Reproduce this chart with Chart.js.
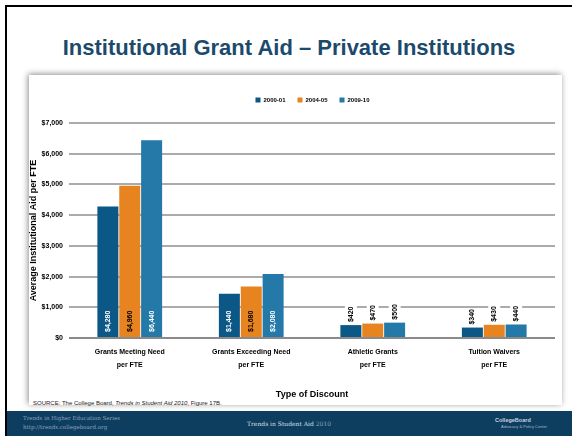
<!DOCTYPE html>
<html>
<head>
<meta charset="utf-8">
<script src="https://cdn.jsdelivr.net/npm/chart.js@4.4.1/dist/chart.umd.min.js"></script>
<style>
  html, body { margin: 0; padding: 0; background: #fff; }
  body { width: 572px; height: 436px; position: relative; overflow: hidden; font-family: "Liberation Sans", Arial, sans-serif; }
  #frame { position: absolute; left: 5px; top: 5px; width: 580px; height: 440px; border-left: 2px solid #000; border-top: 2px solid #000; }
  #title { position: absolute; left: 0; width: 578px; top: 35px; text-align: center; font-weight: bold; font-size: 22px; color: #1c4a6c; }
  #box { position: absolute; left: 29px; top: 75px; width: 533px; height: 330px; background: #fff; box-shadow: -1px -1px 6px rgba(0,0,0,0.45); }
  #source { position: absolute; left: 33px; top: 400px; font-size: 6px; color: #222; }
  #footer { position: absolute; left: 7px; top: 411px; width: 565px; height: 25px; background: #0d3d5f; }
  .ft { position: absolute; font-family: "DejaVu Serif", serif; color: #8fa5b8; font-size: 5.5px; white-space: nowrap; }
  #chart { position: absolute; left: 0; top: 0; }
</style>
</head>
<body>
<div id="frame"></div>
<div id="title">Institutional Grant Aid – Private Institutions</div>
<div id="box"></div>
<div id="source">SOURCE: The College Board, <i>Trends in Student Aid 2010</i>, Figure 17B.</div>
<div id="footer">
  <div class="ft" style="left:16px; top:4px;">Trends in Higher Education Series</div>
  <div class="ft" style="left:16px; top:13px;">http://trends.collegeboard.org</div>
  <div class="ft" style="left:240px; top:9px; font-size:6px; color:#d8e0e8;">Trends in Student Aid <span style="color:#8fa5b8">2010</span></div>
  <div class="ft" style="left:488px; top:6px; font-family:'Liberation Sans',Arial,sans-serif; font-weight:bold; color:#c8d4e0;">CollegeBoard</div>
  <div class="ft" style="left:494px; top:13px; font-family:'Liberation Sans',Arial,sans-serif; font-size:4px; color:#a8b8c8;">Advocacy &amp; Policy Center</div>
</div>
<canvas id="chart" width="572" height="436"></canvas>
<script>
// data
const categories = [
  ['Grants Meeting Need', 'per FTE'],
  ['Grants Exceeding Need', 'per FTE'],
  ['Athletic Grants', 'per FTE'],
  ['Tuition Waivers', 'per FTE']
];
const seriesNames = ['2000-01', '2004-05', '2009-10'];
const values2000 = [4280, 1440, 420, 340];
const values2004 = [4960, 1680, 470, 430];
const values2009 = [6440, 2080, 500, 440];
const yTicks = [0, 1000, 2000, 3000, 4000, 5000, 6000, 7000];

const barColors = ['#0b5785', '#e8841f', '#2479a9'];
const labelColors = ['#ffffff', '#000000', '#ffffff'];
const narrow = '"Liberation Sans Narrow", "Liberation Sans", Arial, sans-serif';

function money(v) {
  return '$' + v.toLocaleString('en-US');
}

// value labels, written sideways like on the slide
const barLabels = {
  id: 'barLabels',
  afterDatasetsDraw(chart) {
    const ctx = chart.ctx;
    ctx.save();
    ctx.font = 'bold 7px ' + narrow;
    chart.data.datasets.forEach((ds, i) => {
      const meta = chart.getDatasetMeta(i);
      meta.data.forEach((bar, j) => {
        const txt = money(ds.data[j]);
        const w = ctx.measureText(txt).width;
        const h = bar.base - bar.y;
        ctx.save();
        ctx.textAlign = 'left';
        ctx.textBaseline = 'middle';
        if (h > w + 10) {
          ctx.translate(bar.x, bar.base - 5);
          ctx.rotate(-Math.PI / 2);
          ctx.fillStyle = labelColors[i];
          ctx.fillText(txt, 0, 0);
        } else {
          ctx.translate(bar.x, bar.y - 3);
          ctx.rotate(-Math.PI / 2);
          ctx.fillStyle = '#fff';
          ctx.fillRect(-1, -6, w + 2, 12);
          ctx.fillStyle = '#000';
          ctx.fillText(txt, 0, 0);
        }
        ctx.restore();
      });
    });
    ctx.restore();
  }
};

// legend sits a bit lower than the plot top and is centred over the plot, not the canvas
const legendSpacing = {
  id: 'legendSpacing',
  beforeInit(chart) {
    const fit = chart.legend.fit;
    chart.legend.fit = function() {
      fit.bind(chart.legend)();
      this.height += 10;
    };
  },
  afterUpdate(chart) {
    chart.legend.left += 24;
    chart.legend.right += 24;
  }
};

const chart = new Chart(document.getElementById('chart'), {
  type: 'bar',
  data: {
    labels: categories,
    datasets: [values2000, values2004, values2009].map((vals, i) => ({
      label: seriesNames[i],
      data: vals,
      backgroundColor: barColors[i],
      categoryPercentage: 0.54,
      barPercentage: 0.96
    }))
  },
  options: {
    responsive: false,
    animation: false,
    devicePixelRatio: 1,
    layout: { padding: { left: 22, right: 17, top: 85, bottom: 36 } },
    plugins: {
      tooltip: { enabled: false },
      legend: {
        position: 'top',
        labels: {
          boxWidth: 5,
          boxHeight: 5,
          padding: 12,
          color: '#000',
          font: { family: narrow, size: 6, weight: 'bold' }
        }
      }
    },
    scales: {
      x: {
        grid: { display: false, drawTicks: false },
        border: { display: false },
        ticks: {
          color: '#000',
          padding: 8,
          maxRotation: 0,
          font: { family: narrow, size: 7, weight: 'bold', lineHeight: 1.8 }
        },
        title: {
          display: true,
          text: 'Type of Discount',
          color: '#000',
          padding: { top: 0, bottom: 0 },
          font: { family: narrow, size: 9, weight: 'bold' }
        },
        afterFit(scale) { scale.height = 62; }
      },
      y: {
        min: 0,
        max: 7000,
        afterBuildTicks(scale) { scale.ticks = yTicks.map(v => ({ value: v })); },
        grid: {
          drawTicks: false,
          lineWidth: 2,
          color: ctx => (ctx.tick && ctx.tick.value === 0) ? '#8a8a8a' : '#ababab'
        },
        border: { display: false },
        ticks: {
          color: '#000',
          padding: 6,
          font: { family: narrow, size: 7, weight: 'bold' },
          callback: v => money(v)
        },
        title: {
          display: true,
          text: 'Average Institutional Aid per FTE',
          color: '#000',
          padding: { top: 6, bottom: 0 },
          font: { family: narrow, size: 9, weight: 'bold' }
        },
        afterFit(scale) { scale.width = 47; }
      }
    }
  },
  plugins: [barLabels, legendSpacing]
});
</script>
</body>
</html>
